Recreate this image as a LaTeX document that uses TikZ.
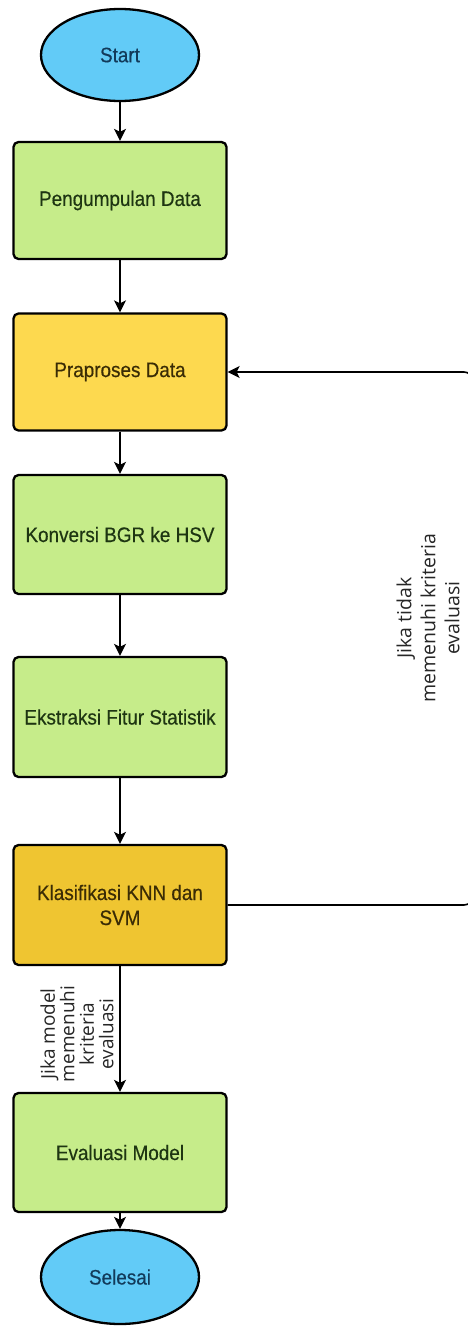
\documentclass[tikz,border=0pt]{standalone}
\usepackage{fontspec}
\setmainfont[FakeStretch=0.9,FakeBold=0.4]{Liberation Sans}
\newfontfamily\labelfont{Open Sans}
\usetikzlibrary{arrows.meta,shapes.geometric}
\definecolor{termblue}{HTML}{62CBF7}
\definecolor{stepgreen}{HTML}{C6EC8A}
\definecolor{stepyellow}{HTML}{FDD94F}
\definecolor{stepgold}{HTML}{EFC531}
\definecolor{txtgreen}{HTML}{1E3512}
\definecolor{txtyellow}{HTML}{3A2C05}
\definecolor{txtblue}{HTML}{123A5A}
\tikzset{
  terminal/.style={ellipse, draw=black, line width=2.3pt, fill=termblue,
    minimum width=158pt, minimum height=92pt, inner sep=0pt,
    font=\fontsize{21}{25}\selectfont, text=txtblue},
  procbox/.style={rectangle, rounded corners=5pt, draw=black, line width=2.3pt,
    minimum width=213pt, minimum height=117pt, inner sep=0pt, align=center,
    font=\fontsize{21}{25}\selectfont},
  greenbox/.style={procbox, fill=stepgreen, text=txtgreen},
  yellowbox/.style={procbox, fill=stepyellow, text=txtyellow},
  goldbox/.style={procbox, fill=stepgold, text=txtyellow},
  flow/.style={line width=1.6pt, -{Stealth[length=12pt,width=12pt,inset=3pt]}},
  looplabel/.style={font=\labelfont\fontsize{19.5}{24}\selectfont, text=black!85, align=center, rotate=90},
}
\begin{document}
\begin{tikzpicture}[x=1pt,y=-1pt]
\useasboundingbox (0,0) rectangle (467,1330);
\node[terminal] (start) at (120,55) {Start};
\node[greenbox] (collect) at (120,200.5) {Pengumpulan Data};
\node[yellowbox] (prep) at (120,372) {Praproses Data};
\node[greenbox, minimum height=119pt] (conv) at (120,534.5) {Konversi BGR ke HSV};
\node[greenbox, minimum height=120pt] (feat) at (120,717) {Ekstraksi Fitur Statistik};
\node[goldbox, minimum height=120pt] (clf) at (120,905) {Klasifikasi KNN dan\\SVM};
\node[greenbox, minimum height=119pt] (eval) at (120,1152.5) {Evaluasi Model};
\node[terminal, minimum height=94pt] (end) at (120,1277) {Selesai};

\coordinate (rb) at (473,905);
\coordinate (rt) at (473,372);

\draw[flow] (start) -- (collect);
\draw[flow] (collect) -- (prep);
\draw[flow] (prep) -- (conv);
\draw[flow] (conv) -- (feat);
\draw[flow] (feat) -- (clf);
\draw[flow] (clf) -- (eval);
\draw[flow] (eval) -- (end);
\draw[flow, rounded corners=9pt] (clf.east) -- (rb) -- (rt) -- (prep.east);

\node[looplabel] (nolabel) at (428,618) {Jika tidak\\memenuhi kriteria\\evaluasi};
\node[looplabel, font=\labelfont\fontsize{19}{19.5}\selectfont] (yeslabel) at (77,1034) {Jika model\\memenuhi\\kriteria\\evaluasi};
\end{tikzpicture}
\end{document}
